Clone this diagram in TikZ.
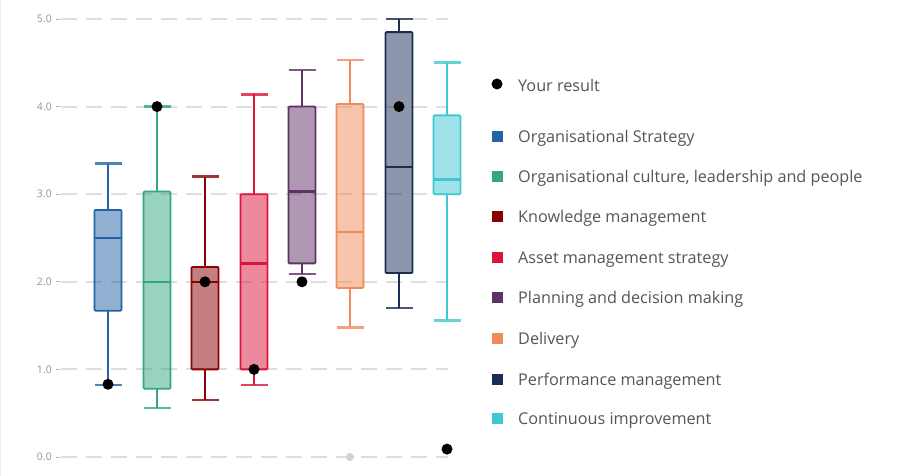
\documentclass[tikz,border=0pt]{standalone}
\usepackage{fontspec}
\setmainfont{Open Sans}
\usepackage{xcolor}

\definecolor{cOS}{RGB}{36,99,168}
\definecolor{cOC}{RGB}{52,166,128}
\definecolor{cKM}{RGB}{139,0,0}
\definecolor{cAM}{RGB}{220,20,60}
\definecolor{cPD}{RGB}{94,50,102}
\definecolor{cDE}{RGB}{240,140,90}
\definecolor{cPM}{RGB}{28,45,85}
\definecolor{cCI}{RGB}{64,200,210}
\definecolor{gridgray}{RGB}{222,222,222}
\definecolor{txtgray}{RGB}{85,85,85}

\tikzset{
  gridline/.style={gridgray, line width=2pt, dash pattern=on 16pt off 9pt},
  ticklbl/.style={anchor=east, inner sep=0pt, text=gray!85, font=\fontsize{10.5}{12}\selectfont},
  legtext/.style={anchor=west, inner sep=0pt, text=txtgray, font=\fontsize{16.2}{18}\selectfont},
  result/.style={fill=black},
}

% box plot: centre, colour, low, q1, median, q3, high
\newcommand{\boxwhisk}[7]{
  \draw[#2, line width=1.8pt] (#1,#3) -- (#1,#4) (#1,#6) -- (#1,#7);
  \draw[#2, draw opacity=0.8, line width=2.6pt] (#1-13.5,#3) -- (#1+13.5,#3) (#1-13.5,#7) -- (#1+13.5,#7);
  \draw[#2, line width=1.8pt, fill=#2, fill opacity=0.5, rounded corners=1pt] (#1-13.5,#4) rectangle (#1+13.5,#6);
  \draw[#2, line width=2.5pt] (#1-13.5,#5) -- (#1+13.5,#5);
}

\begin{document}
\begin{tikzpicture}[x=1pt, y=1pt]
\useasboundingbox (0,0) rectangle (897,476);
% frame
\draw[gray!15, line width=1pt] (0.5,0) -- (0.5,476);
\begin{scope}[shift={(0,19)}, y=87.6pt]
% grid
\foreach \v in {0,...,5} {
  \draw[gridline] (61,\v) -- (448,\v);
  \draw[gray!60, line width=0.8pt] (56,\v) -- (60,\v);
  \node[ticklbl] (tick\v) at (52,\v) {\v.0};
}
% boxes
\boxwhisk{108}{cOS}{0.82}{1.67}{2.50}{2.82}{3.35}
\boxwhisk{157}{cOC}{0.56}{0.78}{2.00}{3.03}{4.00}
\boxwhisk{205}{cKM}{0.65}{1.00}{2.00}{2.17}{3.20}
\boxwhisk{254}{cAM}{0.82}{1.00}{2.21}{3.00}{4.14}
\boxwhisk{302}{cPD}{2.09}{2.21}{3.03}{4.00}{4.42}
\boxwhisk{350}{cDE}{1.48}{1.93}{2.57}{4.03}{4.53}
\boxwhisk{399}{cPM}{1.70}{2.10}{3.31}{4.85}{5.00}
\boxwhisk{447}{cCI}{1.56}{3.00}{3.17}{3.90}{4.50}
% results
\fill[gray!35] (350,0) circle[radius=4pt];
\foreach \x/\v in {108/0.83, 157/4.0, 205/2.0, 254/1.0, 302/2.0, 399/4.0, 447/0.09}
  \fill[result] (\x,\v) circle[radius=5.5pt];
\end{scope}
% legend
\fill[result] (497,392) circle[radius=5.5pt];
\node[legtext] (leg0) at (518,390.5) {Your result};
\foreach \i/\c/\y/\t in {1/cOS/339/Organisational Strategy,
    2/cOC/299/{Organisational culture, leadership and people},
    3/cKM/259/Knowledge management,
    4/cAM/218/Asset management strategy,
    5/cPD/178/Planning and decision making,
    6/cDE/137/Delivery,
    7/cPM/96/Performance management,
    8/cCI/57/Continuous improvement} {
  \fill[\c] (491.5,\y-5.5) rectangle (502.5,\y+5.5);
  \node[legtext] (leg\i) at (518,\y-1.5) {\t};
}
\end{tikzpicture}
\end{document}
